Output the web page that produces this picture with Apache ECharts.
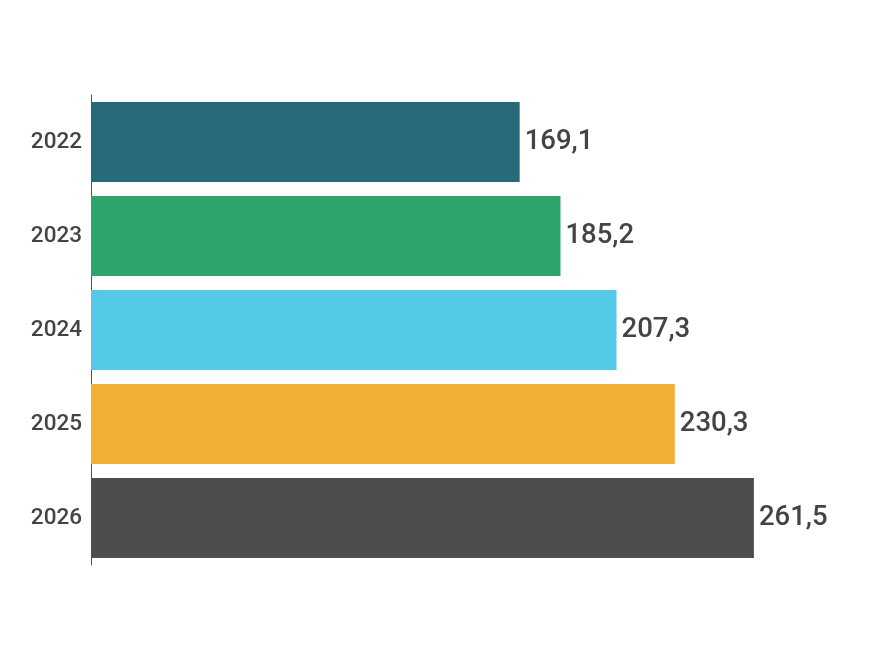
<!DOCTYPE html>
<html>
<head>
<meta charset="utf-8">
<script src="https://cdn.jsdelivr.net/npm/echarts@6/dist/echarts.min.js"></script>
<style>
  html, body { margin: 0; padding: 0; background: #fff; }
  #chart { width: 877px; height: 662px; }
</style>
</head>
<body>
<div id="chart"></div>
<script>
const years = ["2022", "2023", "2024", "2025", "2026"];
const values = [169.1, 185.2, 207.3, 230.3, 261.5];
const barColors = ["#276b7a", "#2ea56b", "#54cae8", "#f2b036", "#4d4d4d"];

const chart = echarts.init(document.getElementById("chart"));

const option = {
	animation: false,
	textStyle: { fontFamily: "Roboto" },
	grid: { left: 91, right: 25.5, top: 95, bottom: 97 },
	xAxis: {
		type: "value",
		min: 0,
		max: 300,
		show: false,
	},
	yAxis: {
		type: "category",
		data: years,
		inverse: true,
		axisLine: { show: true, lineStyle: { color: "#555", width: 1 } },
		axisTick: { show: false },
		axisLabel: {
			color: "#444",
			fontSize: 22.5,
			fontWeight: 500,
			margin: 9,
		},
	},
	series: [
		{
			type: "bar",
			barWidth: 80,
			data: values.map((v, i) => ({ value: v, itemStyle: { color: barColors[i] } })),
			label: {
				show: true,
				position: "right",
				distance: 5,
				color: "#444",
				fontSize: 27.5,
				fontWeight: 500,
				formatter: (p) => p.value.toFixed(1).replace(".", ","),
			},
		},
	],
};

chart.setOption(option);
</script>
</body>
</html>
